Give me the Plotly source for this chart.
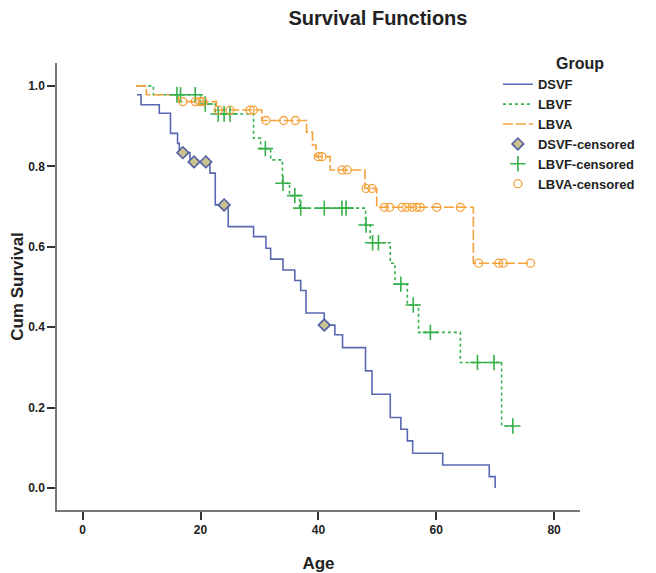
import numpy as np
import plotly.graph_objects as go

# ---------------- data ----------------
# DSVF Kaplan-Meier steps: time of step, survival after step
dsvf_t = [9.2, 9.9, 13.0, 14.9, 16.1, 16.4, 18.2, 21.6, 22.5, 24.7, 29.0, 31.1, 31.9,
          34.0, 36.0, 37.0, 37.9, 41.0, 42.8, 44.1, 48.0, 49.1, 52.2, 54.0, 55.1, 56.0,
          61.1, 69.0, 70.0]
dsvf_s = [0.978, 0.953, 0.932, 0.882, 0.857, 0.834, 0.811, 0.783, 0.704, 0.650, 0.625,
          0.596, 0.569, 0.542, 0.516, 0.491, 0.435, 0.405, 0.381, 0.349, 0.291, 0.233,
          0.175, 0.146, 0.117, 0.086, 0.057, 0.028, 0.0]
dsvf_cens = [17.0, 18.9, 20.9, 24.0, 41.0]

lbvf_t = [9.1, 12.0, 20.0, 22.5, 29.0, 30.2, 31.9, 33.9, 35.1, 36.8, 48.0, 48.8, 52.2,
          53.0, 55.1, 57.0, 64.1, 71.1, 73.0]
lbvf_s = [1.0, 0.978, 0.955, 0.930, 0.870, 0.844, 0.816, 0.758, 0.727, 0.696, 0.654,
          0.610, 0.559, 0.507, 0.455, 0.387, 0.312, 0.154, 0.154]
lbvf_cens = [16.0, 16.6, 19.1, 20.8, 23.0, 24.0, 25.0, 31.0, 34.0, 36.0, 37.0, 41.0,
             44.0, 44.7, 48.1, 49.2, 50.2, 54.0, 56.1, 59.0, 67.0, 69.8, 73.0]

lbva_t = [9.1, 10.8, 16.2, 22.7, 30.4, 38.0, 39.0, 39.6, 42.0, 47.9, 49.9, 66.3, 76.0]
lbva_s = [1.0, 0.978, 0.961, 0.940, 0.914, 0.885, 0.853, 0.824, 0.791, 0.745, 0.698,
          0.559, 0.559]
lbva_cens = [17.0, 19.1, 19.9, 20.4, 23.0, 25.0, 28.4, 29.0, 31.1, 34.1, 36.1, 40.0,
             40.6, 44.0, 44.9, 48.1, 49.1, 51.2, 52.1, 54.2, 55.0, 55.9, 56.7, 57.3,
             60.1, 64.1, 67.2, 70.6, 71.4, 76.0]

x_ticks = [0, 20, 40, 60, 80]
y_ticks = [0.0, 0.2, 0.4, 0.6, 0.8, 1.0]


def surv_at(times, surv, ct):
    t = np.asarray(times)
    s = np.asarray(surv)
    idx = np.searchsorted(t, np.asarray(ct), side="right") - 1
    return s[np.clip(idx, 0, None)]


BLUE = "#5a68b2"
GREEN = "#35b04a"
ORANGE = "#f5a23c"
FONT = "Arial, Liberation Sans, sans-serif"

fig = go.Figure()

fig.add_trace(go.Scatter(x=dsvf_t, y=dsvf_s, mode="lines", name="DSVF",
                         line=dict(color=BLUE, width=1.6, shape="hv")))
fig.add_trace(go.Scatter(x=lbvf_t, y=lbvf_s, mode="lines", name="LBVF",
                         line=dict(color=GREEN, width=1.6, shape="hv", dash="3px,3px")))
fig.add_trace(go.Scatter(x=lbva_t, y=lbva_s, mode="lines", name="LBVA",
                         line=dict(color=ORANGE, width=1.6, shape="hv", dash="10px,3px")))

fig.add_trace(go.Scatter(x=dsvf_cens, y=surv_at(dsvf_t, dsvf_s, dsvf_cens), mode="markers",
                         name="DSVF-censored",
                         marker=dict(symbol="diamond", size=9, color="#c9c28c",
                                     line=dict(color="#4f5ea6", width=1.6))))
fig.add_trace(go.Scatter(x=lbvf_cens, y=surv_at(lbvf_t, lbvf_s, lbvf_cens), mode="markers",
                         name="LBVF-censored",
                         marker=dict(symbol="cross-thin", size=11, color=GREEN,
                                     line=dict(color=GREEN, width=1.6))))
fig.add_trace(go.Scatter(x=lbva_cens, y=surv_at(lbva_t, lbva_s, lbva_cens), mode="markers",
                         name="LBVA-censored",
                         marker=dict(symbol="circle-open", size=8, color=ORANGE,
                                     line=dict(color=ORANGE, width=1.3))))

# the page body keeps an 8px margin, so the figure is sized to fit the window from there
fig.update_layout(
    width=648, height=565,
    margin=dict(l=49, r=76, t=55, b=63, autoexpand=False),
    paper_bgcolor="white", plot_bgcolor="white",
    font=dict(family=FONT, color="#222"),
    title=dict(text="Survival Functions", x=0.571, xanchor="center", y=0.982, yanchor="middle",
               font=dict(size=20, weight="bold", color="#222")),
    legend=dict(x=0.843, xanchor="left", y=0.986, yanchor="top",
                bgcolor="rgba(0,0,0,0)", font=dict(size=13, weight="bold", color="#222"),
                tracegroupgap=0, itemwidth=30),
    showlegend=True,
    annotations=[dict(text="Group", xref="paper", yref="paper", x=1.0, y=1.0,
                      xanchor="center", yanchor="middle", showarrow=False,
                      font=dict(size=16, weight="bold", color="#222"))],
)

fig.update_xaxes(range=[-4.36, 84.4], tickvals=x_ticks, ticks="outside", ticklen=8,
                 tickwidth=1.5, tickcolor="#333", showline=True, linecolor="#777",
                 linewidth=1.5, showgrid=False, zeroline=False, automargin=False,
                 tickfont=dict(size=12, weight="bold", color="#222"),
                 title=dict(text="Age", font=dict(size=17, weight="bold", color="#222"),
                            standoff=22))
fig.update_yaxes(range=[-0.055, 1.057], tickvals=y_ticks, tickformat=".1f", ticks="outside",
                 ticklen=8, tickwidth=1.5, tickcolor="#333", showline=True, linecolor="#777",
                 linewidth=1.5, showgrid=False, zeroline=False, automargin=False,
                 tickfont=dict(size=12, weight="bold", color="#222"),
                 title=dict(text="Cum Survival", font=dict(size=17, weight="bold", color="#222"),
                            standoff=6))

fig.write_html("out.html")
